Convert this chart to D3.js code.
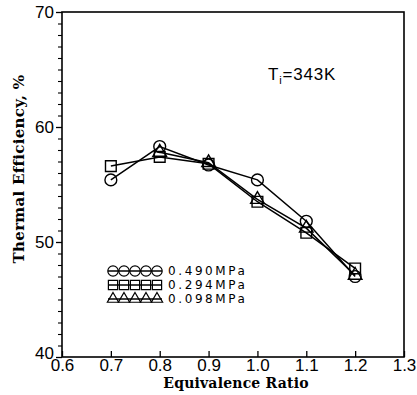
<!DOCTYPE html>
<html>
<head>
<meta charset="utf-8">
<script src="https://cdn.jsdelivr.net/npm/d3@7"></script>
<style>
  body { margin: 0; background: #fff; }
  svg text { fill: #000; }
</style>
</head>
<body>
<svg id="chart" width="417" height="395"></svg>
<script>
// values
const ratios = [0.7, 0.8, 0.9, 1.0, 1.1, 1.2];
const eff490 = [55.4, 58.3, 56.7, 55.4, 51.8, 47.0];
const eff294 = [56.6, 57.4, 56.8, 53.5, 50.8, 47.7];
const eff098 = [null, 57.8, 56.9, 53.7, 51.2, 47.1];
const xTicks = [0.6, 0.7, 0.8, 0.9, 1.0, 1.1, 1.2, 1.3];
const yTicks = [40, 50, 60, 70];
const seriesNames = ["0.490MPa", "0.294MPa", "0.098MPa"];

const svg = d3.select("#chart");
const plotL = 62, plotR = 404, plotT = 12, plotB = 357;

const x = d3.scaleLinear().domain([0.6, 1.3]).range([plotL, plotR]);
const y = d3.scaleLinear().domain([40, 70]).range([plotB, plotT]);

// frame
svg.append("rect")
  .attr("x", plotL).attr("y", plotT)
  .attr("width", plotR - plotL).attr("height", plotB - plotT)
  .attr("fill", "none").attr("stroke", "#000").attr("stroke-width", 1.6);

// y axis: ticks outward, minor every 1
const yAxis = d3.axisLeft(y).tickValues(yTicks).tickSize(6).tickFormat(d3.format("d"));
const gy = svg.append("g").attr("transform", `translate(${plotL},0)`).call(yAxis);
gy.select(".domain").remove();
gy.selectAll("line").attr("stroke-width", 1.3);
gy.selectAll("text")
  .attr("font-family", "Liberation Sans, Arial, sans-serif")
  .attr("font-size", 17).attr("x", -8);
gy.selectAll(".tick").filter(d => d === 40).select("text").attr("dy", "0.1em");

svg.append("g").attr("transform", `translate(${plotL},0)`)
  .call(d3.axisLeft(y).tickValues(d3.range(41, 70).filter(v => v % 10 !== 0)).tickSize(4).tickFormat(""))
  .call(g => g.select(".domain").remove())
  .selectAll("line").attr("stroke-width", 1.1);

// x axis: ticks inward
const xAxis = d3.axisBottom(x).tickValues(xTicks).tickSize(-6).tickFormat(d3.format(".1f"));
const gx = svg.append("g").attr("transform", `translate(0,${plotB})`).call(xAxis);
gx.select(".domain").remove();
gx.selectAll("line").attr("stroke-width", 1.3);
gx.selectAll("text")
  .attr("font-family", "Liberation Sans, Arial, sans-serif")
  .attr("font-size", 17).attr("y", 2).attr("dy", "0.71em");

// axis titles
svg.append("text")
  .attr("x", 236).attr("y", 388)
  .attr("text-anchor", "middle")
  .attr("font-family", "DejaVu Serif, serif").attr("font-weight", "bold")
  .attr("font-size", 14).attr("letter-spacing", 0.2)
  .text("Equivalence Ratio");

svg.append("text")
  .attr("transform", "translate(24,169) rotate(-90)")
  .attr("text-anchor", "middle")
  .attr("font-family", "DejaVu Serif, serif").attr("font-weight", "bold")
  .attr("font-size", 15).attr("letter-spacing", 0.3)
  .text("Thermal Efficiency, %");

// annotation
const ann = svg.append("text")
  .attr("x", 268).attr("y", 80)
  .attr("font-family", "Liberation Sans, Arial, sans-serif").attr("font-size", 17)
  .attr("letter-spacing", 0.8);
ann.append("tspan").text("T");
ann.append("tspan").attr("font-size", 11).attr("dy", 4).text("i");
ann.append("tspan").attr("dy", -4).text("=343K");

// markers
const symCircle = d3.symbol().type(d3.symbolCircle).size(110);
const symSquare = d3.symbol().type(d3.symbolSquare).size(115);
const symTriangle = d3.symbol().type(d3.symbolTriangle).size(80);
const series = [
  { values: eff490, sym: symCircle },
  { values: eff294, sym: symSquare },
  { values: eff098, sym: symTriangle }
];

const line = d3.line()
  .defined(d => d[1] !== null)
  .x(d => x(d[0])).y(d => y(d[1]));

series.forEach(function (s) {
  const pts = ratios.map((r, i) => [r, s.values[i]]);
  svg.append("path")
    .attr("d", line(pts))
    .attr("fill", "none").attr("stroke", "#000").attr("stroke-width", 1.5);
});

series.forEach(function (s) {
  const pts = ratios.map((r, i) => [r, s.values[i]]).filter(d => d[1] !== null);
  svg.selectAll(null).data(pts).enter().append("path")
    .attr("d", s.sym)
    .attr("transform", d => `translate(${x(d[0])},${y(d[1])})`)
    .attr("fill", "none").attr("stroke", "#000").attr("stroke-width", 1.4);
});

// legend
const legY = [271, 285, 299];
series.forEach(function (s, i) {
  const g = svg.append("g");
  g.append("line")
    .attr("x1", 108).attr("x2", 162).attr("y1", legY[i]).attr("y2", legY[i])
    .attr("stroke", "#000").attr("stroke-width", 1.3);
  d3.range(5).forEach(function (k) {
    g.append("path")
      .attr("d", i === 0 ? d3.symbol().type(d3.symbolCircle).size(85)()
        : i === 1 ? d3.symbol().type(d3.symbolSquare).size(85)()
        : d3.symbol().type(d3.symbolTriangle).size(55)())
      .attr("transform", `translate(${113 + k * 11},${legY[i]})`)
      .attr("fill", "none").attr("stroke", "#000").attr("stroke-width", 1.2);
  });
  g.append("text")
    .attr("x", 168).attr("y", legY[i]).attr("dy", "0.36em")
    .attr("font-family", "DejaVu Sans, sans-serif").attr("font-size", 12)
    .attr("letter-spacing", 2.6)
    .text(seriesNames[i]);
});
</script>
</body>
</html>
